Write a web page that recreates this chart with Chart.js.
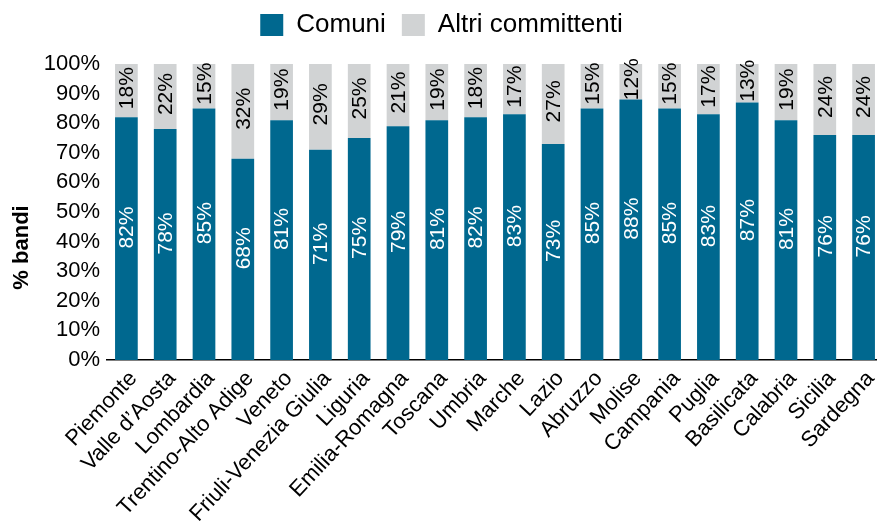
<!DOCTYPE html>
<html>
<head>
<meta charset="utf-8">
<script src="https://cdn.jsdelivr.net/npm/chart.js@4/dist/chart.umd.min.js"></script>
<style>
  html, body { margin: 0; padding: 0; background: #ffffff; overflow: hidden; }
  #wrap { width: 890px; height: 525px; position: relative; }
</style>
</head>
<body>
<div id="wrap"><canvas id="c"></canvas></div>
<script>
const categories = ["Piemonte", "Valle d\u2019Aosta", "Lombardia", "Trentino-Alto Adige", "Veneto",
  "Friuli-Venezia Giulia", "Liguria", "Emilia-Romagna", "Toscana", "Umbria", "Marche", "Lazio",
  "Abruzzo", "Molise", "Campania", "Puglia", "Basilicata", "Calabria", "Sicilia", "Sardegna"];
const comuni = [82, 78, 85, 68, 81, 71, 75, 79, 81, 82, 83, 73, 85, 88, 85, 83, 87, 81, 76, 76];
const altri  = [18, 22, 15, 32, 19, 29, 25, 21, 19, 18, 17, 27, 15, 12, 15, 17, 13, 19, 24, 24];
const yTicks = [0, 10, 20, 30, 40, 50, 60, 70, 80, 90, 100];
const seriesNames = ["Comuni", "Altri committenti"];
const yTitle = "% bandi";

const FONT = "'Liberation Sans', Arial, sans-serif";
const BLUE = "#00688f";
const GREY = "#d1d3d4";

const barLabels = {
  id: "barLabels",
  afterDatasetsDraw(chart) {
    const ctx = chart.ctx;
    chart.data.datasets.forEach((ds, di) => {
      const meta = chart.getDatasetMeta(di);
      meta.data.forEach((el, i) => {
        const p = el.getProps(["x", "y", "base"], true);
        const cy = (p.y + p.base) / 2 + (di === 0 ? -11 : -2.5);
        ctx.save();
        ctx.translate(p.x, cy);
        ctx.rotate(-Math.PI / 2);
        ctx.font = "21px " + FONT;
        ctx.textAlign = "center";
        ctx.textBaseline = "middle";
        ctx.fillStyle = di === 0 ? "#ffffff" : "#000000";
        ctx.fillText(ds.data[i] + "%", 0, 1);
        ctx.restore();
      });
    });
  }
};

const axisTitle = {
  id: "axisTitle",
  afterDraw(chart) {
    const ctx = chart.ctx;
    const a = chart.chartArea;
    ctx.save();
    ctx.translate(22, a.top + (a.bottom - a.top) * 0.62);
    ctx.rotate(-Math.PI / 2);
    ctx.font = "bold 22px " + FONT;
    ctx.textAlign = "center";
    ctx.textBaseline = "middle";
    ctx.fillStyle = "#000000";
    ctx.fillText(yTitle, 0, 0);
    ctx.restore();
  }
};

const legendSpace = {
  id: "legendSpace",
  beforeLayout(chart) {
    const lg = chart.legend;
    if (lg && !lg._patched) {
      const f = lg.fit;
      lg.fit = function () { f.call(this); this.height += 16; };
      lg._patched = true;
    }
  }
};

new Chart(document.getElementById("c"), {
  type: "bar",
  data: {
    labels: categories,
    datasets: [
      { label: seriesNames[0], data: comuni, backgroundColor: BLUE, borderWidth: 0,
        categoryPercentage: 1, barPercentage: 0.585 },
      { label: seriesNames[1], data: altri, backgroundColor: GREY, borderWidth: 0,
        categoryPercentage: 1, barPercentage: 0.585 }
    ]
  },
  options: {
    responsive: true,
    maintainAspectRatio: false,
    animation: false,
    layout: { padding: { left: 0, right: 7, top: -4, bottom: -8 } },
    plugins: {
      legend: {
        position: "top",
        labels: {
          boxWidth: 23, boxHeight: 22, padding: 16,
          color: "#000000",
          font: { family: FONT, size: 26 }
        }
      },
      tooltip: { enabled: false }
    },
    scales: {
      x: {
        stacked: true,
        grid: { display: false, drawTicks: false },
        border: { display: true, color: "#000000", width: 1.5 },
        ticks: {
          color: "#000000",
          font: { family: FONT, size: 22 },
          minRotation: 47, maxRotation: 47,
          autoSkip: false,
          padding: 6,
          labelOffset: 7
        }
      },
      y: {
        stacked: true,
        min: 0, max: 100,
        grid: { display: false, drawTicks: false },
        border: { display: false },
        afterBuildTicks(scale) { scale.ticks = yTicks.map(v => ({ value: v })); },
        afterFit(scale) { scale.width = 107; },
        ticks: {
          color: "#000000",
          font: { family: FONT, size: 22 },
          padding: 7,
          callback: (v) => v + "%"
        }
      }
    }
  },
  plugins: [barLabels, axisTitle, legendSpace]
});
</script>
</body>
</html>
